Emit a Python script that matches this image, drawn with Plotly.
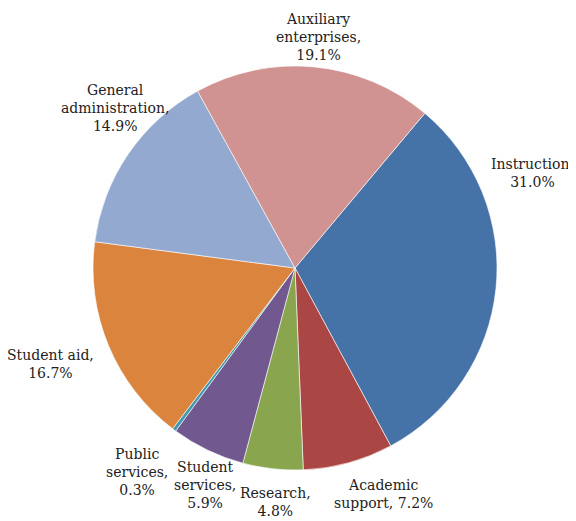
import plotly.graph_objects as go

categories = ["Instruction", "Academic support", "Research", "Student services",
              "Public services", "Student aid", "General administration", "Auxiliary enterprises"]
values = [31.0, 7.2, 4.8, 5.9, 0.3, 16.7, 14.9, 19.1]
colors = ["#4572A7", "#AA4643", "#89A54E", "#71588F", "#4198AF", "#DB843D", "#93A9CF", "#D19392"]

# how each label wraps
label_text = {
    "Instruction": "Instruction,<br>{v}",
    "Academic support": "Academic<br>support, {v}",
    "Research": "Research,<br>{v}",
    "Student services": "Student<br>services,<br>{v}",
    "Public services": "Public<br>services,<br>{v}",
    "Student aid": "Student aid,<br>{v}",
    "General administration": "General<br>administration,<br>{v}",
    "Auxiliary enterprises": "Auxiliary<br>enterprises,<br>{v}",
}
# label centers in reference pixels (x, y)
label_pos = {
    "Instruction": (532, 173),
    "Academic support": (383, 494),
    "Research": (275, 502),
    "Student services": (205, 485),
    "Public services": (137, 472),
    "Student aid": (50, 364),
    "General administration": (115, 108),
    "Auxiliary enterprises": (318, 37),
}

OFF = 8  # browser body margin
W, H = 576 - OFF, 521 - OFF
cx, cy, r = 295 - OFF, 268 - OFF, 202

fig = go.Figure(go.Pie(
    labels=categories, values=values, sort=False, direction="clockwise",
    rotation=40, marker=dict(colors=colors, line=dict(color="white", width=0.6)),
    textinfo="none", hoverinfo="label+percent", showlegend=False,
    domain=dict(x=[(cx - r) / W, (cx + r) / W], y=[1 - (cy + r) / H, 1 - (cy - r) / H]),
))

font_family = "DejaVu Serif"
annotations = []
for cat, v in zip(categories, values):
    text = label_text[cat].format(v="%.1f%%" % v)
    x, y = label_pos[cat]
    annotations.append(dict(x=(x - OFF) / W, y=1 - (y - OFF) / H, xref="paper", yref="paper",
                            text=text, showarrow=False, xanchor="center", yanchor="middle",
                            align="center", font=dict(family=font_family, size=14, color="#222")))

fig.update_layout(width=W, height=H, margin=dict(l=0, r=0, t=0, b=0),
                  font=dict(family=font_family),
                  paper_bgcolor="white", plot_bgcolor="white", annotations=annotations)
fig.write_html("out.html")
